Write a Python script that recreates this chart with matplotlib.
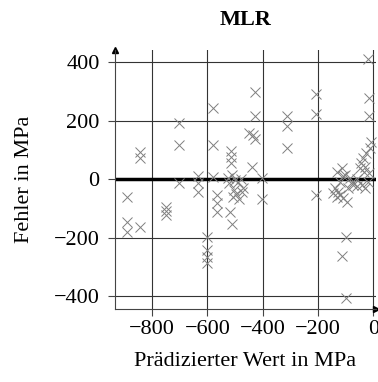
import matplotlib
matplotlib.use("Agg")
import matplotlib.pyplot as plt

# predicted value (MPa) and error (MPa)
pred = [-891, -891, -891, -843, -843, -843,
        -749, -749, -749,
        -701, -701, -701,
        -633, -633, -633,
        -600, -600, -600, -600,
        -581, -581, -578,
        -566, -566, -566,
        -515, -515, -515, -512, -518,
        -525, -510, -500, -490, -520, -505, -495, -507, -485, -475, -470, -480,
        -448, -440, -436, -428, -428, -428,
        -404, -404,
        -313, -313, -313,
        -207, -207, -207,
        -139, -127, -121, -109, -97, -145, -133, -121, -102, -114,
        -78, -72, -90, -60, -131, -110, -85, -60,
        -99, -114, -99,
        -49, -43, -37, -25, -13, -10,
        -31, -33, -15, -20, -40, -30,
        -14, -14, -18]
err = [-63, -146, -180, -163, 93, 71,
       -95, -108, -123,
       192, 118, -12,
       10, -15, -43,
       -197, -243, -268, -286,
       244, 118, 8,
       -55, -83, -112,
       96, 75, 54, -155, -112,
       5, 15, -5, -10, -15, -38, -50, -60, -70, -45, -30, 0,
       156, 42, 150, 137, 298, 216,
       2, -70,
       216, 182, 105,
       290, 221, -55,
       -32, -43, -55, -66, -78, -49, -60, -9, 14, 37,
       -9, -20, -30, -25, 25, 10, 5, 0,
       -197, -263, -408,
       37, 54, 71, 88, 105, 128,
       42, 24, 20, -10, -20, -30,
       276, 216, 410]

xticks = [-800, -600, -400, -200, 0]
yticks = [-400, -200, 0, 200, 400]

plt.rcParams['font.family'] = ['Liberation Serif', 'DejaVu Serif']

fig = plt.figure(figsize=(3.78, 3.82), dpi=100)
ax = fig.add_axes([0.304, 0.1906, 0.691, 0.6777])

ax.set_xlim(-934, 10)
ax.set_ylim(-445, 440)
ax.set_xticks(xticks)
ax.set_yticks(yticks)
ax.set_xticklabels(["\u2212%d" % -t if t < 0 else str(t) for t in xticks])
ax.set_yticklabels(["\u2212%d" % -t if t < 0 else str(t) for t in yticks])
ax.grid(True, color='#333333', linewidth=0.8)
ax.set_axisbelow(True)

ax.axhline(0, color='black', linewidth=2.5, zorder=2)
ax.plot(pred, err, linestyle='none', marker='x', color='#7f7f7f',
        markersize=6.5, markeredgewidth=0.7, zorder=3)

for s in ['top', 'right']:
    ax.spines[s].set_visible(False)
for s in ['left', 'bottom']:
    ax.spines[s].set_color('#444444')
    ax.spines[s].set_linewidth(0.8)
ax.plot(0, 1, '^', color='black', markersize=4, transform=ax.transAxes, clip_on=False)
ax.plot(1, 0, '>', color='black', markersize=4, transform=ax.transAxes, clip_on=False)

ax.tick_params(direction='out', length=5, width=0.8, color='#444444', labelsize=16)
ax.tick_params(axis='y', pad=6)
ax.tick_params(axis='x', pad=3)
ax.set_xlabel('Prädizierter Wert in MPa', fontsize=16, labelpad=9)
ax.set_ylabel('Fehler in MPa', fontsize=16, labelpad=14)
ax.set_title('MLR', fontsize=16, fontweight='bold', pad=18)

fig.savefig('out.png', dpi=100)
